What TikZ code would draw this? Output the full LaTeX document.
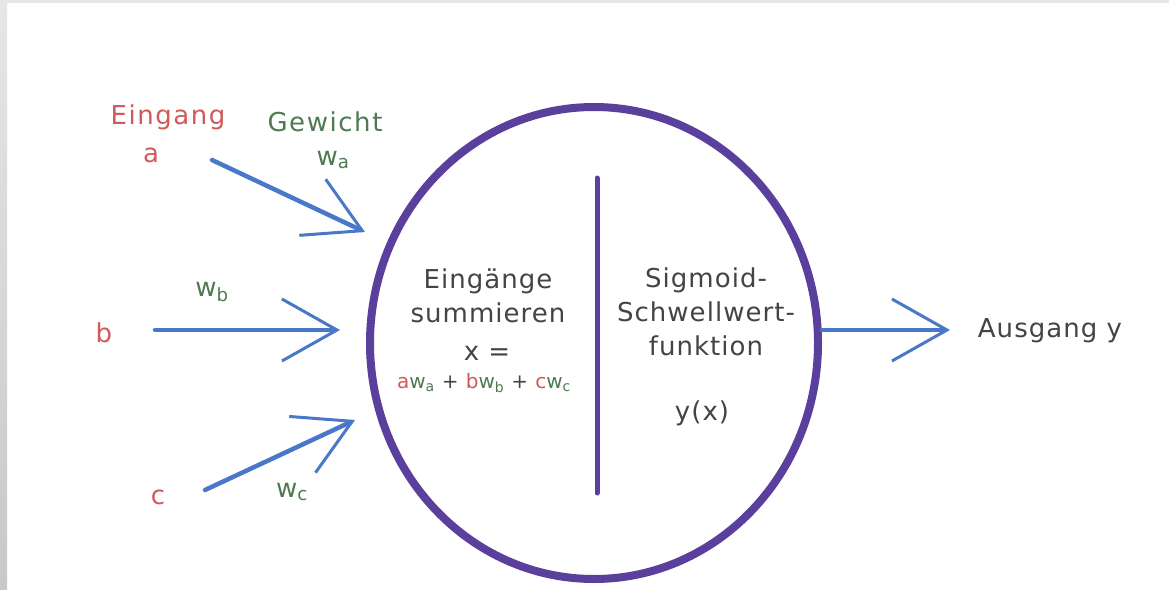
\documentclass[tikz,border=0pt]{standalone}
\usepackage{fontspec}
\setmainfont{DejaVu Sans}
\newfontfamily\handfont[LetterSpace=4]{DejaVu Sans}
\newfontfamily\widefont[LetterSpace=6]{DejaVu Sans}
\usetikzlibrary{arrows.meta,shapes.geometric}
\definecolor{inred}{HTML}{D05A5A}
\definecolor{wgreen}{HTML}{4E7A52}
\definecolor{arrblue}{HTML}{4A78C8}
\definecolor{neurpurple}{HTML}{5B3F9C}
\definecolor{txtgray}{HTML}{444444}
\definecolor{framegray}{HTML}{E6E6E6}
\definecolor{framedark}{HTML}{C8C8C8}
\newcommand{\wsub}[1]{w\textsubscript{#1}}
\tikzset{
  redlbl/.style={text=inred, font=\widefont\fontsize{26}{28}\selectfont, inner sep=0pt},
  greenlbl/.style={text=wgreen, font=\widefont\fontsize{26}{28}\selectfont, inner sep=0pt},
  graylbl/.style={text=txtgray, font=\handfont\fontsize{26}{34}\selectfont, inner sep=0pt, align=center},
  inarrow/.style={draw=arrblue, line width=4.5pt, line cap=round,
    -{Straight Barb[length=55pt,width=62pt,line width=3pt]}},
}
\begin{document}
\begin{tikzpicture}[x=1pt,y=-1pt]
\path[use as bounding box, fill=white] (0,0) rectangle (1169,589);
% frame
\fill[framegray] (0,0) rectangle (1169,3);
\shade[top color=framegray, bottom color=framedark] (0,0) rectangle (7,589);
% neuron
\node[draw=neurpurple, line width=8pt, ellipse, minimum width=448pt, minimum height=472pt] (neuron) at (594,343) {};
\coordinate (divtop) at (597,178);
\coordinate (divbot) at (597,493);
\draw[neurpurple, line width=5pt, line cap=round] (divtop) -- (divbot);
% inner texts
\node[graylbl] (sum) at (488,296) {Eingänge\\summieren};
\node[graylbl] (xeq) at (487,353) {x =};
\node[inner sep=0pt, font=\handfont\fontsize{20}{22}\selectfont] (eq) at (484,383)
  {\textcolor{inred}{a}\textcolor{wgreen}{\wsub{a}} \textcolor{txtgray}{+} \textcolor{inred}{b}\textcolor{wgreen}{\wsub{b}} \textcolor{txtgray}{+} \textcolor{inred}{c}\textcolor{wgreen}{\wsub{c}}};
\node[graylbl] (sig) at (706,312) {Sigmoid-\\Schwellwert-\\funktion};
\node[graylbl] (yx) at (702,413) {y(x)};
% left labels
\node[redlbl] (eing) at (168,117) {Eingang};
\node[redlbl] (ina) at (151,155) {a};
\node[greenlbl] (gew) at (325,122) {Gewicht};
\node[greenlbl] (wa) at (333,160) {\wsub{a}};
\node[greenlbl] (wb) at (212,292) {\wsub{b}};
\node[redlbl] (inb) at (104,333) {b};
\node[redlbl] (inc) at (158,497) {c};
\node[greenlbl] (wc) at (292,492) {\wsub{c}};
\node[graylbl] (out) at (1050,331) {Ausgang y};
% arrows
\coordinate (sa) at (212,160);
\coordinate (ea) at (365,232);
\coordinate (sb) at (155,330);
\coordinate (eb) at (340,330);
\coordinate (sc) at (205,490);
\coordinate (ec) at (355,420);
\coordinate (so) at (822,330);
\coordinate (eo) at (950,330);
\draw[inarrow] (sa) -- (ea);
\draw[inarrow] (sb) -- (eb);
\draw[inarrow] (sc) -- (ec);
\draw[inarrow] (so) -- (eo);
\end{tikzpicture}
\end{document}
